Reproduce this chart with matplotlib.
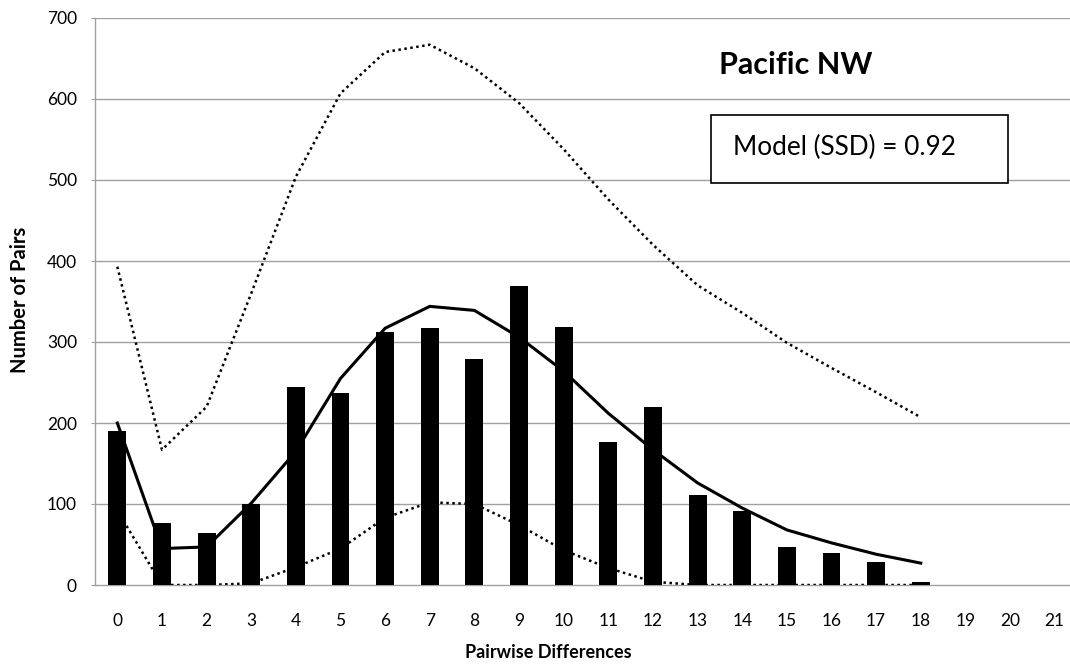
import matplotlib
matplotlib.use("Agg")
import matplotlib.pyplot as plt
from matplotlib.patches import Rectangle
import numpy as np

plt.rcParams['font.family'] = ['Lato', 'DejaVu Sans']

# Pairwise differences (categories)
differences = list(range(22))

# Observed number of pairs at each difference
observed = [190, 77, 64, 100, 244, 237, 312, 317, 279, 369, 318,
            177, 220, 111, 91, 47, 39, 28, 4, 0, 0, 0]

# Expected mismatch distribution under the model (differences 0-18)
model = [200, 45, 47, 101, 165, 255, 317, 344, 339, 306, 264,
         212, 167, 126, 95, 68, 52, 38, 27]

# Upper and lower confidence bounds of the model (differences 0-18)
upper = [393, 167, 220, 360, 504, 607, 658, 667, 638, 595, 538,
         476, 420, 370, 336, 299, 268, 238, 207]
lower = [92, 0, 0, 2, 22, 45, 83, 102, 100, 74, 43,
         21, 4, 0, 0, 0, 0, 0, 0]

y_ticks = [0, 100, 200, 300, 400, 500, 600, 700]

W, H = 1070, 670
fig = plt.figure(figsize=(W / 100, H / 100), dpi=100)
left, right, top, bottom = 95, 1077, 18, 585
ax = fig.add_axes([left / W, 1 - bottom / H, (right - left) / W, (bottom - top) / H])

x = np.arange(len(differences))
ax.bar(x, observed, width=0.4, color='black', zorder=3)

xm = np.arange(len(model))
dot = (0, (1, 1.4))
ax.plot(xm, model, color='black', lw=2.2, zorder=4, solid_joinstyle='miter')
ax.plot(xm, upper, color='black', lw=1.8, linestyle=dot, zorder=4, dash_capstyle='butt')
ax.plot(xm, lower, color='black', lw=1.8, linestyle=dot, zorder=4, dash_capstyle='butt')

ax.set_xlim(-0.5, len(differences) - 0.5)
ax.set_ylim(0, 700)
ax.set_yticks(y_ticks)
ax.set_xticks(x)
ax.set_xticklabels([str(d) for d in differences])

grid_c = '#a0a0a0'
for v in y_ticks[1:]:
    ax.axhline(v, color=grid_c, lw=1.0, zorder=1)
for s in ['top', 'right']:
    ax.spines[s].set_visible(False)
ax.spines['left'].set_color(grid_c)
ax.spines['bottom'].set_color(grid_c)
ax.spines['left'].set_linewidth(1.0)
ax.spines['bottom'].set_linewidth(1.0)
ax.spines['left'].set_zorder(2)
ax.spines['bottom'].set_zorder(2)

ax.tick_params(axis='y', length=3, color=grid_c, pad=10, labelsize=12.5)
ax.tick_params(axis='x', length=0, pad=20, labelsize=12.5)

fig.text(20 / W, 1 - 300 / H, 'Number of Pairs', rotation=90, ha='center', va='center',
         fontsize=14.5, fontweight='bold')
fig.text(548 / W, 1 - 652 / H, 'Pairwise Differences', ha='center', va='center',
         fontsize=13, fontweight='bold')

fig.text(796 / W, 1 - 74 / H, 'Pacific NW', ha='center', va='baseline',
         fontsize=22, fontweight='bold')

fig.patches.append(Rectangle((711 / W, 1 - 183 / H), (1008 - 711) / W, (183 - 115) / H,
                             transform=fig.transFigure, facecolor='white',
                             edgecolor='black', lw=1.2, zorder=5))
fig.text(733 / W, 1 - 155 / H, 'Model (SSD) = 0.92', ha='left', va='baseline',
         fontsize=18.8, zorder=6)

fig.savefig('out.png', dpi=100)
